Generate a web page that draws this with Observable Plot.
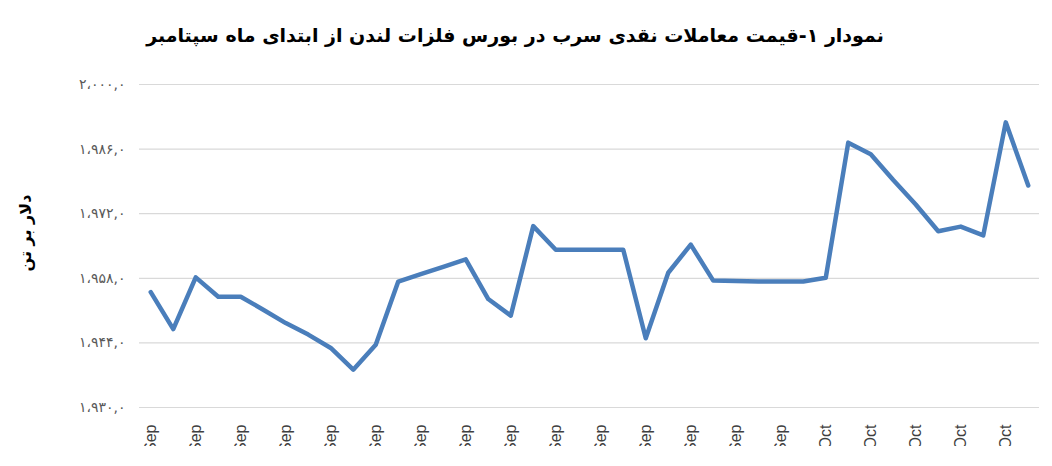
<!DOCTYPE html>
<html><head><meta charset="utf-8">
<script src="https://cdn.jsdelivr.net/npm/d3@7"></script>
<script src="https://cdn.jsdelivr.net/npm/@observablehq/plot@0.6"></script>
<style>
html,body{margin:0;padding:0;background:#fff;overflow:hidden;}
#wrap{position:relative;width:1052px;height:446px;overflow:hidden;background:#fff;}
#title{position:absolute;left:0;top:20px;width:1030px;text-align:center;font-family:"DejaVu Sans",sans-serif;font-weight:bold;font-size:19px;line-height:30px;color:#000;}
#chart{position:absolute;left:0;top:60px;}
#chart svg{font-family:"Liberation Sans",Arial,sans-serif;}
#ylabel{position:absolute;left:25px;top:233px;transform:translate(-50%,-50%) rotate(-90deg);white-space:nowrap;font-family:"DejaVu Sans",sans-serif;font-weight:bold;font-size:16px;color:#000;}
g[aria-label="y-axis tick label"] text{font-family:"DejaVu Sans",sans-serif;}
</style></head><body>
<div id="wrap">
<div id="title" dir="rtl">نمودار ۱-قیمت معاملات نقدی سرب در بورس فلزات لندن از ابتدای ماه سپتامبر</div>
<div id="chart"></div>
<div id="ylabel" dir="rtl"></div>
</div>
<script>
// Lead cash price (USD/tonne), one value per trading day
const prices = [
  1955.0, 1947.0, 1958.2, 1954.0, 1954.0, 1951.2, 1948.3, 1945.8, 1942.9, 1938.2,
  1943.6, 1957.3, 1958.9, 1960.5, 1962.1, 1953.5, 1949.9, 1969.3, 1964.2, 1964.2,
  1964.2, 1964.2, 1945.0, 1959.2, 1965.3, 1957.5, 1957.4, 1957.3, 1957.3, 1957.3,
  1958.1, 1987.4, 1984.9, 1979.3, 1974.0, 1968.2, 1969.2, 1967.3, 1991.8, 1978.1
];
// month of each labelled (every second) category
const tickLabels = [
  "Sep","Sep","Sep","Sep","Sep","Sep","Sep","Sep","Sep","Sep",
  "Sep","Sep","Sep","Sep","Sep","Oct","Oct","Oct","Oct","Oct"
];
const yTicks = [1930, 1944, 1958, 1972, 1986, 2000];
const yLabel = "دلار بر تن";

document.getElementById("ylabel").textContent = yLabel;

const faDigits = "۰۱۲۳۴۵۶۷۸۹";
const fa = v => d3.format(",.1f")(v)
  .replace(/\d/g, d => faDigits[+d])
  .replace(/,/g, "،")
  .replace(".", ",");

const data = prices.map((v, i) => ({i, v}));
const tickIdx = tickLabels.map((_, k) => k * 2);

const chart = Plot.plot({
  width: 1052,
  height: 400,
  marginTop: 24,
  marginBottom: 53,
  marginLeft: 139,
  marginRight: 13,
  x: {type: "point", domain: d3.range(prices.length), padding: 0.5, round: false},
  y: {domain: [1930, 2000]},
  marks: [
    Plot.gridY(yTicks, {stroke: "#d9d9d9", strokeOpacity: 1, strokeWidth: 1.2}),
    Plot.axisY({ticks: yTicks, tickFormat: fa, tickSize: 0, tickPadding: 14, fontSize: 14, color: "#595959", label: null}),
    Plot.axisX({ticks: tickIdx, tickFormat: i => tickLabels[i / 2], tickRotate: -90, tickSize: 0,
      tickPadding: 17, fontSize: 16, color: "#404040", label: null}),
    Plot.lineY(data, {x: "i", y: "v", stroke: "#4a7ebb", strokeWidth: 4.5, strokeLinejoin: "round", strokeLinecap: "round"})
  ]
});
document.getElementById("chart").appendChild(chart);
</script>
</body></html>
